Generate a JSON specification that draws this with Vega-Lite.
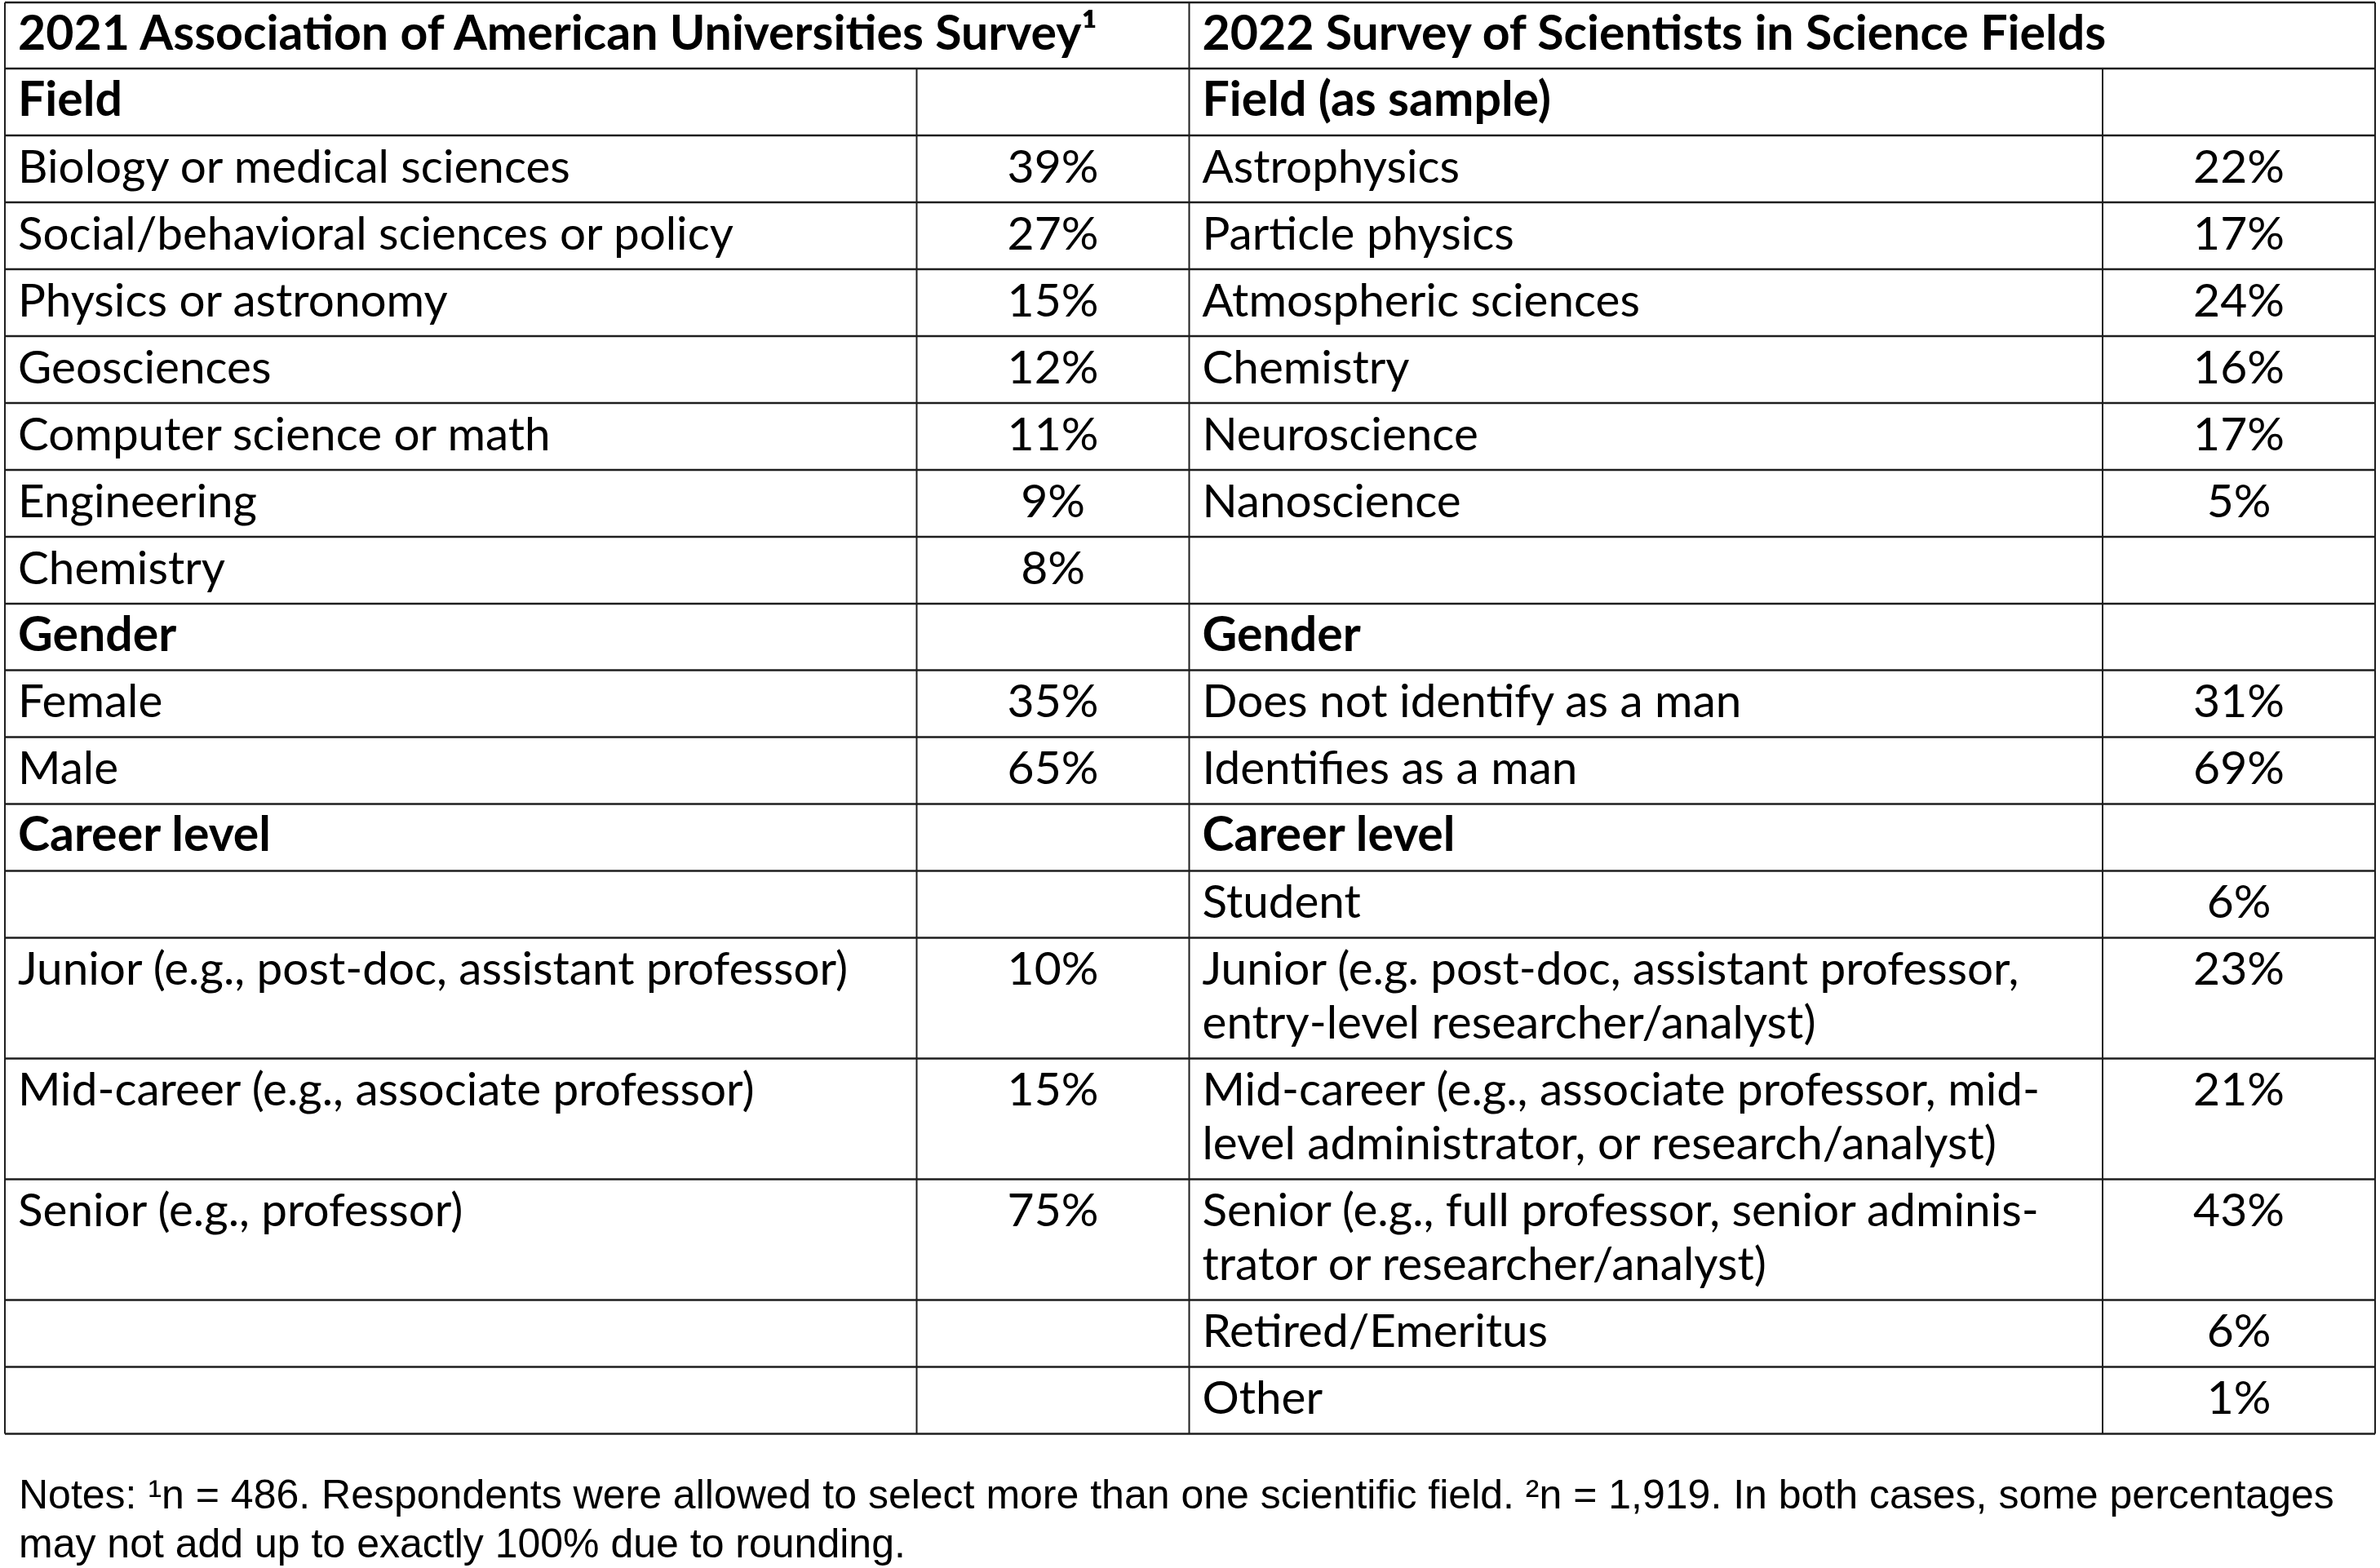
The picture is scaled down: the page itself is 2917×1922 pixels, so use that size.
{
  "$schema": "https://vega.github.io/schema/vega-lite/v6.json",
  "width": 2917,
  "height": 1760,
  "autosize": {"type": "none"},
  "padding": {"left": 0, "top": 0, "right": 0, "bottom": 162},
  "background": "white",
  "config": {"view": {"stroke": null}},
  "title": {
    "text": ["Notes: ¹n = 486. Respondents were allowed to select more than one scientific field. ²n = 1,919. In both cases, some percentages", "may not add up to exactly 100% due to rounding."],
    "orient": "bottom",
    "anchor": "start",
    "frame": "group",
    "font": "Liberation Sans",
    "fontSize": 50,
    "fontWeight": "normal",
    "color": "#000000",
    "lineHeight": 60,
    "baseline": "alphabetic",
    "offset": 89,
    "dx": 23
  },
  "datasets": {
    "labels": [
      {"row": 0, "col": 0, "kind": "title", "text": "2021 Association of American Universities Survey¹"},
      {"row": 0, "col": 2, "kind": "title", "text": "2022 Survey of Scientists in Science Fields"},
      {"row": 1, "col": 0, "kind": "heading", "text": "Field"},
      {"row": 1, "col": 2, "kind": "heading", "text": "Field (as sample)"},
      {"row": 2, "col": 0, "kind": "item", "text": "Biology or medical sciences"},
      {"row": 2, "col": 2, "kind": "item", "text": "Astrophysics"},
      {"row": 3, "col": 0, "kind": "item", "text": "Social/behavioral sciences or policy"},
      {"row": 3, "col": 2, "kind": "item", "text": "Particle physics"},
      {"row": 4, "col": 0, "kind": "item", "text": "Physics or astronomy"},
      {"row": 4, "col": 2, "kind": "item", "text": "Atmospheric sciences"},
      {"row": 5, "col": 0, "kind": "item", "text": "Geosciences"},
      {"row": 5, "col": 2, "kind": "item", "text": "Chemistry"},
      {"row": 6, "col": 0, "kind": "item", "text": "Computer science or math"},
      {"row": 6, "col": 2, "kind": "item", "text": "Neuroscience"},
      {"row": 7, "col": 0, "kind": "item", "text": "Engineering"},
      {"row": 7, "col": 2, "kind": "item", "text": "Nanoscience"},
      {"row": 8, "col": 0, "kind": "item", "text": "Chemistry"},
      {"row": 9, "col": 0, "kind": "heading", "text": "Gender"},
      {"row": 9, "col": 2, "kind": "heading", "text": "Gender"},
      {"row": 10, "col": 0, "kind": "item", "text": "Female"},
      {"row": 10, "col": 2, "kind": "item", "text": "Does not identify as a man"},
      {"row": 11, "col": 0, "kind": "item", "text": "Male"},
      {"row": 11, "col": 2, "kind": "item", "text": "Identifies as a man"},
      {"row": 12, "col": 0, "kind": "heading", "text": "Career level"},
      {"row": 12, "col": 2, "kind": "heading", "text": "Career level"},
      {"row": 13, "col": 2, "kind": "item", "text": "Student"},
      {"row": 14, "col": 0, "kind": "item", "text": "Junior (e.g., post-doc, assistant professor)"},
      {"row": 14, "col": 2, "kind": "item", "text": "Junior (e.g. post-doc, assistant professor,\nentry-level researcher/analyst)"},
      {"row": 15, "col": 0, "kind": "item", "text": "Mid-career (e.g., associate professor)"},
      {"row": 15, "col": 2, "kind": "item", "text": "Mid-career (e.g., associate professor, mid-\nlevel administrator, or research/analyst)"},
      {"row": 16, "col": 0, "kind": "item", "text": "Senior (e.g., professor)"},
      {"row": 16, "col": 2, "kind": "item", "text": "Senior (e.g., full professor, senior adminis-\ntrator or researcher/analyst)"},
      {"row": 17, "col": 2, "kind": "item", "text": "Retired/Emeritus"},
      {"row": 18, "col": 2, "kind": "item", "text": "Other"}
    ],
    "shares": [
      {"row": 2, "col": 1, "share": 0.39}, {"row": 2, "col": 3, "share": 0.22},
      {"row": 3, "col": 1, "share": 0.27}, {"row": 3, "col": 3, "share": 0.17},
      {"row": 4, "col": 1, "share": 0.15}, {"row": 4, "col": 3, "share": 0.24},
      {"row": 5, "col": 1, "share": 0.12}, {"row": 5, "col": 3, "share": 0.16},
      {"row": 6, "col": 1, "share": 0.11}, {"row": 6, "col": 3, "share": 0.17},
      {"row": 7, "col": 1, "share": 0.09}, {"row": 7, "col": 3, "share": 0.05},
      {"row": 8, "col": 1, "share": 0.08},
      {"row": 10, "col": 1, "share": 0.35}, {"row": 10, "col": 3, "share": 0.31},
      {"row": 11, "col": 1, "share": 0.65}, {"row": 11, "col": 3, "share": 0.69},
      {"row": 13, "col": 3, "share": 0.06},
      {"row": 14, "col": 1, "share": 0.10}, {"row": 14, "col": 3, "share": 0.23},
      {"row": 15, "col": 1, "share": 0.15}, {"row": 15, "col": 3, "share": 0.21},
      {"row": 16, "col": 1, "share": 0.75}, {"row": 16, "col": 3, "share": 0.43},
      {"row": 17, "col": 3, "share": 0.06},
      {"row": 18, "col": 3, "share": 0.01}
    ],
    "hlines": [
      {"b": 0}, {"b": 1}, {"b": 2}, {"b": 3}, {"b": 4}, {"b": 5}, {"b": 6}, {"b": 7}, {"b": 8}, {"b": 9},
      {"b": 10}, {"b": 11}, {"b": 12}, {"b": 13}, {"b": 14}, {"b": 15}, {"b": 16}, {"b": 17}, {"b": 18}, {"b": 19}
    ],
    "vlines": [
      {"c": 0, "from": 0, "to": 19},
      {"c": 1, "from": 1, "to": 19},
      {"c": 2, "from": 0, "to": 19},
      {"c": 3, "from": 1, "to": 19},
      {"c": 4, "from": 0, "to": 19}
    ]
  },
  "layer": [
    {
      "data": {"name": "hlines"},
      "mark": {"type": "rule", "color": "#1e1e1e", "strokeWidth": 2.5},
      "encoding": {
        "y": {"field": "b", "type": "quantitative", "axis": null,
          "scale": {"domain": [0,1,2,3,4,5,6,7,8,9,10,11,12,13,14,15,16,17,18,19],
                    "range": [3,84,166,248,330,412,494,576,658,740,821.5,903.5,985.5,1067.5,1149.5,1297.5,1445.5,1593.5,1675.5,1757.5],
                    "nice": false, "zero": false}},
        "x": {"datum": 0, "type": "quantitative", "axis": null,
          "scale": {"domain": [0,1,2,3,4], "range": [6,1123.5,1457.5,2577,2911], "nice": false, "zero": false}},
        "x2": {"datum": 4}
      }
    },
    {
      "data": {"name": "vlines"},
      "mark": {"type": "rule", "color": "#1e1e1e", "strokeWidth": 2},
      "encoding": {
        "x": {"field": "c", "type": "quantitative", "axis": null},
        "y": {"field": "from", "type": "quantitative", "axis": null},
        "y2": {"field": "to"}
      }
    },
    {
      "data": {"name": "labels"},
      "transform": [{"filter": "datum.kind !== 'item'"}],
      "mark": {"type": "text", "font": "Lato", "fontSize": 59, "fontWeight": "bold", "color": "#000000", "align": "left", "baseline": "alphabetic", "dx": 16, "dy": 57.5, "lineBreak": "\n", "lineHeight": 66},
      "encoding": {
        "x": {"field": "col", "type": "quantitative", "axis": null},
        "y": {"field": "row", "type": "quantitative", "axis": null},
        "text": {"field": "text"}
      }
    },
    {
      "data": {"name": "labels"},
      "transform": [{"filter": "datum.kind === 'item'"}],
      "mark": {"type": "text", "font": "Lato", "fontSize": 56.6, "fontWeight": "normal", "color": "#000000", "align": "left", "baseline": "alphabetic", "dx": 16, "dy": 57.5, "lineBreak": "\n", "lineHeight": 66},
      "encoding": {
        "x": {"field": "col", "type": "quantitative", "axis": null},
        "y": {"field": "row", "type": "quantitative", "axis": null},
        "text": {"field": "text"}
      }
    },
    {
      "data": {"name": "shares"},
      "mark": {"type": "text", "font": "Lato", "fontSize": 57, "fontWeight": "normal", "color": "#000000", "align": "center", "baseline": "alphabetic", "dx": 167, "dy": 57.5},
      "encoding": {
        "x": {"field": "col", "type": "quantitative", "axis": null},
        "y": {"field": "row", "type": "quantitative", "axis": null},
        "text": {"field": "share", "type": "quantitative", "format": ".0%"}
      }
    }
  ]
}
